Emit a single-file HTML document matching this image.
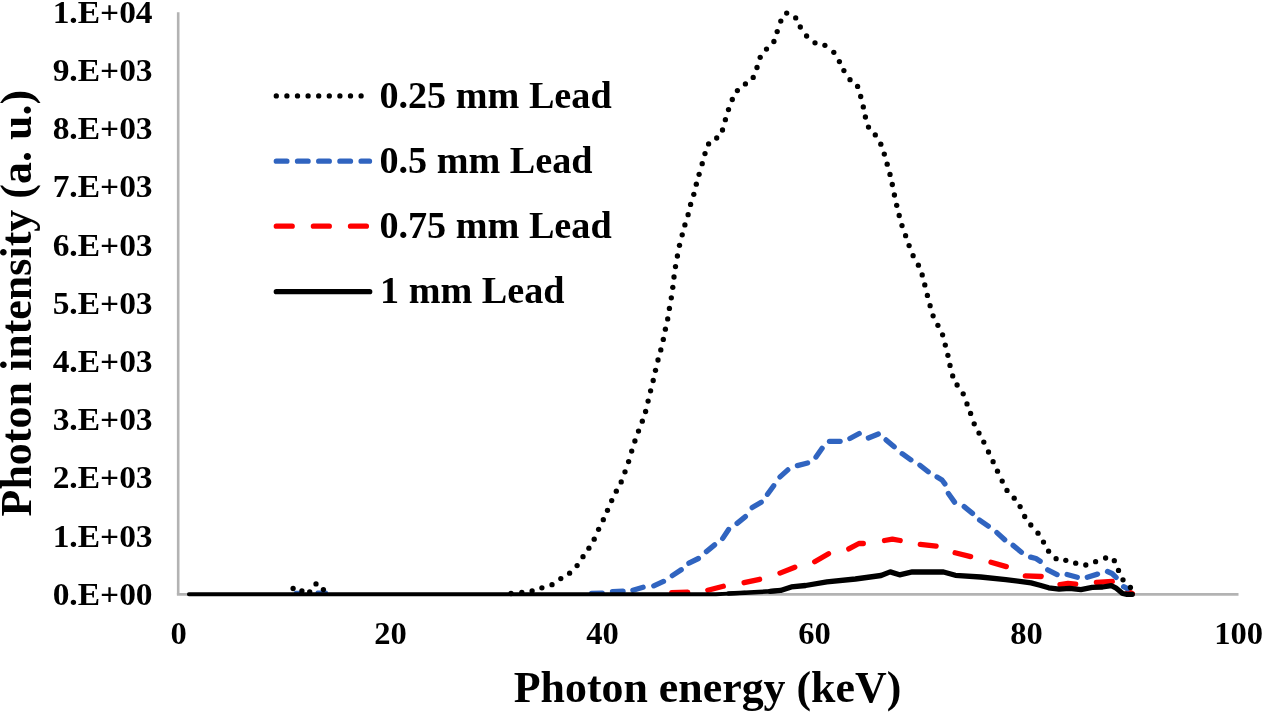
<!DOCTYPE html>
<html><head><meta charset="utf-8"><style>
html,body{margin:0;padding:0;background:#fff;}
body{width:1265px;height:712px;overflow:hidden;}
svg{display:block;will-change:transform;}
text{font-family:"Liberation Serif",serif;font-weight:bold;fill:#000;}
</style></head><body>
<svg width="1265" height="712" viewBox="0 0 1265 712">
<rect width="1265" height="712" fill="#fff"/>
<g stroke="#b3b3b3" stroke-width="2.6" fill="none">
<line x1="178.2" y1="12.3" x2="178.2" y2="594.4"/>
<line x1="176.9" y1="594.4" x2="1238.5" y2="594.4"/>
</g>
<g fill="none" stroke-linejoin="round" stroke-linecap="round" stroke-width="5.3">
<g stroke="#FF0000"><polyline points="671.8,592.7 687.7,592.1"/><polyline points="707.8,590.2 723.3,586.3"/><polyline points="744.1,582.7 759.6,579.3"/><polyline points="780.0,573.1 794.8,567.3"/><polyline points="814.7,561.7 828.5,553.7"/><polyline points="848.8,548.9 858.9,543.5 863.3,543.5"/><polyline points="884.5,540.5 892.4,539.2 900.2,540.5"/><polyline points="920.3,544.3 936.1,546.1"/><polyline points="955.1,552.8 970.6,556.6"/><polyline points="991.0,562.2 1006.3,566.6"/><polyline points="1025.3,575.8 1041.2,576.5"/><polyline points="1060.0,584.6 1068.0,583.5 1075.7,584.2"/><polyline points="1096.4,582.5 1112.3,581.4"/><polyline points="1128,591.4 1132.3,593.6"/></g>
<g stroke="#3064C0"><polyline points="591.6,593.4 602.2,593.1"/><polyline points="612.5,591.7 623.1,591.2"/><polyline points="632.9,590.2 643.1,587.2"/><polyline points="653.8,585.8 663.5,581.4"/><polyline points="672.3,575.6 681.2,569.7"/><polyline points="688.9,563.2 698.4,558.5"/><polyline points="706.4,551.6 714.6,544.9"/><polyline points="722.7,538.4 728.6,529.5"/><polyline points="737.1,523.4 745.4,516.6"/><polyline points="752.2,507.6 761.2,502.2"/><polyline points="767.5,494.3 773.7,485.7"/><polyline points="780.0,476.9 787.8,469.9"/><polyline points="797.4,465.6 807.6,463.0"/><polyline points="816.0,457.0 822.1,448.3"/><polyline points="829.5,441.3 840.1,441.3"/><polyline points="849.9,438.5 859.2,433.5"/><polyline points="868.4,438.0 878.3,434.0"/><polyline points="886.1,439.9 894.2,446.8"/><polyline points="902.2,453.7 910.9,459.8"/><polyline points="919.9,465.2 928.2,471.8"/><polyline points="937.1,477.0 942.0,480.0 944.9,483.9"/><polyline points="948.4,493.5 954.5,502.1"/><polyline points="964.2,506.6 972.5,513.4"/><polyline points="979.6,520.1 988.3,526.1"/><polyline points="996.9,532.6 1004.7,539.8"/><polyline points="1013.1,545.4 1021.4,552.2"/><polyline points="1030.6,557.1 1036.0,558.5 1040.2,561.2"/><polyline points="1047.7,569.8 1057.1,574.6"/><polyline points="1067.1,574.5 1077.3,577.2"/><polyline points="1087.3,577.2 1097.5,574.1"/><polyline points="1107.5,571.5 1112.0,573.5 1116.1,577.4"/><polyline points="1123.6,586.7 1127.5,588.7"/>
<polyline stroke-width="4" points="295.8,592.7 299.5,592.7"/><polyline stroke-width="4" points="317.5,592.6 326,592.6"/>
</g>
<g fill="#000" stroke="none"><circle cx="293.1" cy="588.5" r="2.65"/><circle cx="301.9" cy="590.9" r="2.65"/><circle cx="309.7" cy="591.8" r="2.65"/><circle cx="316.0" cy="583.9" r="2.65"/><circle cx="323.4" cy="589.6" r="2.65"/><circle cx="511.0" cy="593.5" r="2.65"/><circle cx="521.8" cy="592.4" r="2.65"/><circle cx="532.1" cy="590.9" r="2.65"/><circle cx="541.9" cy="587.8" r="2.65"/><circle cx="552.0" cy="584.7" r="2.65"/><circle cx="560.8" cy="578.6" r="2.65"/><circle cx="569.6" cy="573.2" r="2.65"/><circle cx="577.1" cy="565.6" r="2.65"/><circle cx="583.0" cy="556.7" r="2.65"/><circle cx="588.9" cy="548.2" r="2.65"/><circle cx="594.2" cy="539.2" r="2.65"/><circle cx="598.6" cy="529.3" r="2.65"/><circle cx="603.3" cy="519.7" r="2.65"/><circle cx="607.5" cy="510.3" r="2.65"/><circle cx="611.7" cy="500.6" r="2.65"/><circle cx="616.3" cy="491.2" r="2.65"/><circle cx="621.2" cy="481.9" r="2.65"/><circle cx="625.0" cy="471.8" r="2.65"/><circle cx="628.6" cy="461.6" r="2.65"/><circle cx="631.7" cy="451.1" r="2.65"/><circle cx="634.9" cy="441.0" r="2.65"/><circle cx="638.5" cy="431.1" r="2.65"/><circle cx="642.3" cy="421.2" r="2.65"/><circle cx="645.6" cy="411.5" r="2.65"/><circle cx="648.1" cy="401.1" r="2.65"/><circle cx="650.6" cy="390.8" r="2.65"/><circle cx="653.2" cy="380.5" r="2.65"/><circle cx="655.5" cy="370.3" r="2.65"/><circle cx="658.0" cy="360.0" r="2.65"/><circle cx="660.8" cy="349.9" r="2.65"/><circle cx="663.3" cy="339.4" r="2.65"/><circle cx="665.4" cy="329.2" r="2.65"/><circle cx="667.7" cy="318.9" r="2.65"/><circle cx="669.4" cy="308.4" r="2.65"/><circle cx="671.3" cy="297.8" r="2.65"/><circle cx="672.8" cy="287.3" r="2.65"/><circle cx="674.0" cy="277.0" r="2.65"/><circle cx="675.5" cy="266.6" r="2.65"/><circle cx="677.4" cy="256.0" r="2.65"/><circle cx="679.5" cy="245.3" r="2.65"/><circle cx="682.2" cy="234.8" r="2.65"/><circle cx="684.9" cy="224.9" r="2.65"/><circle cx="688.1" cy="214.7" r="2.65"/><circle cx="690.6" cy="204.4" r="2.65"/><circle cx="693.8" cy="194.3" r="2.65"/><circle cx="696.3" cy="184.2" r="2.65"/><circle cx="699.1" cy="174.3" r="2.65"/><circle cx="702.2" cy="163.7" r="2.65"/><circle cx="705.0" cy="153.6" r="2.65"/><circle cx="708.6" cy="143.9" r="2.65"/><circle cx="716.7" cy="138.0" r="2.65"/><circle cx="722.5" cy="130.0" r="2.65"/><circle cx="725.4" cy="119.7" r="2.65"/><circle cx="728.5" cy="109.6" r="2.65"/><circle cx="732.3" cy="99.5" r="2.65"/><circle cx="737.4" cy="90.6" r="2.65"/><circle cx="745.4" cy="83.9" r="2.65"/><circle cx="753.2" cy="77.4" r="2.65"/><circle cx="757.0" cy="67.5" r="2.65"/><circle cx="760.2" cy="57.3" r="2.65"/><circle cx="766.5" cy="49.1" r="2.65"/><circle cx="773.9" cy="41.5" r="2.65"/><circle cx="777.2" cy="31.6" r="2.65"/><circle cx="780.8" cy="21.1" r="2.65"/><circle cx="786.7" cy="13.1" r="2.65"/><circle cx="795.7" cy="17.9" r="2.65"/><circle cx="800.3" cy="27.0" r="2.65"/><circle cx="806.6" cy="36.0" r="2.65"/><circle cx="815.0" cy="42.8" r="2.65"/><circle cx="824.9" cy="45.3" r="2.65"/><circle cx="833.8" cy="52.3" r="2.65"/><circle cx="839.4" cy="61.6" r="2.65"/><circle cx="843.9" cy="70.6" r="2.65"/><circle cx="850.0" cy="79.7" r="2.65"/><circle cx="857.6" cy="86.4" r="2.65"/><circle cx="860.7" cy="96.5" r="2.65"/><circle cx="863.3" cy="106.9" r="2.65"/><circle cx="865.4" cy="117.0" r="2.65"/><circle cx="868.5" cy="127.1" r="2.65"/><circle cx="875.3" cy="134.9" r="2.65"/><circle cx="880.8" cy="144.2" r="2.65"/><circle cx="884.3" cy="154.1" r="2.65"/><circle cx="887.2" cy="164.2" r="2.65"/><circle cx="890.0" cy="174.4" r="2.65"/><circle cx="892.3" cy="184.5" r="2.65"/><circle cx="894.4" cy="195.0" r="2.65"/><circle cx="896.7" cy="205.3" r="2.65"/><circle cx="899.2" cy="215.5" r="2.65"/><circle cx="902.0" cy="225.6" r="2.65"/><circle cx="905.6" cy="235.7" r="2.65"/><circle cx="909.1" cy="245.6" r="2.65"/><circle cx="913.1" cy="255.7" r="2.65"/><circle cx="918.4" cy="265.2" r="2.65"/><circle cx="922.2" cy="274.9" r="2.65"/><circle cx="924.8" cy="284.9" r="2.65"/><circle cx="927.4" cy="295.4" r="2.65"/><circle cx="930.1" cy="305.7" r="2.65"/><circle cx="933.1" cy="315.8" r="2.65"/><circle cx="937.9" cy="325.3" r="2.65"/><circle cx="942.6" cy="334.8" r="2.65"/><circle cx="945.3" cy="345.1" r="2.65"/><circle cx="947.9" cy="355.3" r="2.65"/><circle cx="950.0" cy="365.4" r="2.65"/><circle cx="952.7" cy="375.9" r="2.65"/><circle cx="957.1" cy="385.0" r="2.65"/><circle cx="963.2" cy="393.8" r="2.65"/><circle cx="967.0" cy="403.9" r="2.65"/><circle cx="970.6" cy="413.4" r="2.65"/><circle cx="974.2" cy="423.8" r="2.65"/><circle cx="979.0" cy="433.1" r="2.65"/><circle cx="983.8" cy="442.1" r="2.65"/><circle cx="988.5" cy="452.0" r="2.65"/><circle cx="993.1" cy="461.7" r="2.65"/><circle cx="997.5" cy="471.2" r="2.65"/><circle cx="1002.2" cy="481.1" r="2.65"/><circle cx="1007.0" cy="490.4" r="2.65"/><circle cx="1014.2" cy="498.2" r="2.65"/><circle cx="1020.1" cy="506.6" r="2.65"/><circle cx="1024.7" cy="516.5" r="2.65"/><circle cx="1030.8" cy="525.0" r="2.65"/><circle cx="1038.0" cy="533.2" r="2.65"/><circle cx="1043.5" cy="542.1" r="2.65"/><circle cx="1048.6" cy="551.2" r="2.65"/><circle cx="1056.1" cy="558.7" r="2.65"/><circle cx="1065.8" cy="560.3" r="2.65"/><circle cx="1075.7" cy="563.2" r="2.65"/><circle cx="1085.8" cy="565.0" r="2.65"/><circle cx="1095.6" cy="561.7" r="2.65"/><circle cx="1105.6" cy="558.0" r="2.65"/><circle cx="1114.3" cy="560.7" r="2.65"/><circle cx="1118.5" cy="570.4" r="2.65"/><circle cx="1123.0" cy="579.8" r="2.65"/><circle cx="1130.4" cy="587.4" r="2.65"/></g>
<polyline stroke="#000" stroke-width="3.9" points="188.9,594.3 716,594.3 728.5,593.6 745,592.8"/>
<polyline stroke="#000" stroke-width="4.5" points="728.5,593.6 745,592.8 758.5,592.0 770,591.3 780.6,590.4"/>
<polyline stroke="#000" points="770.0,591.3 780.6,590.4 791.3,586.9 805.6,585.5 826.9,581.9 855.4,579.0 881.0,575.5 890.2,571.9 899.5,574.8 912.3,571.9 930.0,572.0 943.5,572.0 955.3,575.3 980.6,577.0 1005.8,579.6 1031.1,582.9 1040.0,585.2 1048.7,587.8 1059.1,589.1 1069.6,588.3 1080.9,589.6 1092.2,587.4 1102.6,587.0 1111.3,585.7 1115.7,587.8 1122.6,593.5 1127.0,594.3 1132.3,594.3"/>
</g>
<g font-size="31">
<text transform="translate(152.6 604.7) scale(1.08 1)" text-anchor="end">0.E+00</text>
<text transform="translate(152.6 546.5) scale(1.08 1)" text-anchor="end">1.E+03</text>
<text transform="translate(152.6 488.3) scale(1.08 1)" text-anchor="end">2.E+03</text>
<text transform="translate(152.6 430.1) scale(1.08 1)" text-anchor="end">3.E+03</text>
<text transform="translate(152.6 371.9) scale(1.08 1)" text-anchor="end">4.E+03</text>
<text transform="translate(152.6 313.7) scale(1.08 1)" text-anchor="end">5.E+03</text>
<text transform="translate(152.6 255.5) scale(1.08 1)" text-anchor="end">6.E+03</text>
<text transform="translate(152.6 197.3) scale(1.08 1)" text-anchor="end">7.E+03</text>
<text transform="translate(152.6 139.1) scale(1.08 1)" text-anchor="end">8.E+03</text>
<text transform="translate(152.6 80.9) scale(1.08 1)" text-anchor="end">9.E+03</text>
<text transform="translate(152.6 22.7) scale(1.08 1)" text-anchor="end">1.E+04</text>
<text transform="translate(178.6 643.6) scale(1.05 1)" text-anchor="middle">0</text>
<text transform="translate(390.6 643.6) scale(1.05 1)" text-anchor="middle">20</text>
<text transform="translate(602.6 643.6) scale(1.05 1)" text-anchor="middle">40</text>
<text transform="translate(814.6 643.6) scale(1.05 1)" text-anchor="middle">60</text>
<text transform="translate(1026.6 643.6) scale(1.05 1)" text-anchor="middle">80</text>
<text transform="translate(1238.6 643.6) scale(1.05 1)" text-anchor="middle">100</text>
</g>
<g font-size="38">
<text transform="translate(379.4 107.6) scale(1.005 1)">0.25 mm Lead</text>
<text transform="translate(379.4 172.9) scale(1.005 1)">0.5 mm Lead</text>
<text transform="translate(379.4 238.2) scale(1.005 1)">0.75 mm Lead</text>
<text transform="translate(380.0 303.4) scale(1.005 1)">1 mm Lead</text>
</g>
<g fill="none" stroke-linecap="round" stroke-width="5.3">
<line x1="276.3" y1="95.9" x2="370" y2="95.9" stroke="#000" stroke-dasharray="0 10.6"/>
<line x1="276.3" y1="161.2" x2="369.5" y2="161.2" stroke="#3064C0" stroke-dasharray="10.6 10.6"/>
<line x1="276.3" y1="226.2" x2="369" y2="226.2" stroke="#FF0000" stroke-dasharray="15.9 21.2"/>
<line x1="276.3" y1="291.7" x2="369.7" y2="291.7" stroke="#000"/>
</g>
<text transform="translate(707.5 702.2) scale(0.975 1)" font-size="45" text-anchor="middle">Photon energy (keV)</text>
<text transform="translate(30.5,303.2) rotate(-90)" x="0" y="0" font-size="44" text-anchor="middle">Photon intensity (a. u.)</text>
</svg>
</body></html>
